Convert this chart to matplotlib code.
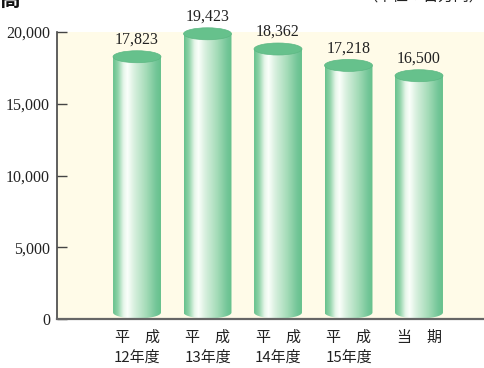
import numpy as np
import matplotlib
matplotlib.use("Agg")
import matplotlib.pyplot as plt
from matplotlib.path import Path
from matplotlib.patches import PathPatch, Ellipse
from matplotlib.colors import LinearSegmentedColormap

# ---- data ----
categories = ["平　成\n12年度", "平　成\n13年度", "平　成\n14年度", "平　成\n15年度", "当　期"]
values = [17823, 19423, 18362, 17218, 16500]
value_labels = ["17,823", "19,423", "18,362", "17,218", "16,500"]
yticks = [0, 5000, 10000, 15000, 20000]
ytick_labels = ["0", "5,000", "10,000", "15,000", "20,000"]
title_left = "高"
unit_text = "（単位：百万円）"

SERIF = ["Liberation Serif", "Noto Sans CJK JP"]
CJK = ["Noto Sans CJK JP", "DejaVu Sans"]

W, H = 484, 368
fig = plt.figure(figsize=(W / 100, H / 100), dpi=100)
ax = fig.add_axes([57 / W, 49 / H, 427 / W, 287 / H])
ax.set_facecolor("#fffbe8")

x = np.arange(len(values))
ax.set_xlim(-1.135, 4.922)
ax.set_ylim(0, 20000)

px_y = 20000 / 287.0          # data units per pixel (y)
lift = 6.5 * px_y             # 3D lift of the cylinders
ell_h = 12 * px_y             # ellipse full height
bw = 0.68                     # bar width in data units

cmap = LinearSegmentedColormap.from_list(
    "cyl",
    [(0.0, "#66c18c"), (0.10, "#8fd3a8"), (0.22, "#e6f6ea"), (0.30, "#fbfffb"),
     (0.45, "#d6efdd"), (0.70, "#a3dbb7"), (0.90, "#73c698"), (1.0, "#66c18c")])
grad = np.linspace(0, 1, 256).reshape(1, -1)

for xi, v, lab in zip(x, values, value_labels):
    base = lift
    top = v + lift
    left, right = xi - bw / 2, xi + bw / 2
    th = np.linspace(np.pi, 2 * np.pi, 60)
    bx = xi + bw / 2 * np.cos(th)
    by = base + ell_h / 2 * np.sin(th)
    verts = [(left, top)] + list(zip(bx, by)) + [(right, top), (left, top)]
    codes = [Path.MOVETO] + [Path.LINETO] * (len(verts) - 2) + [Path.CLOSEPOLY]
    clip = PathPatch(Path(verts, codes), facecolor="none", edgecolor="none",
                     transform=ax.transData)
    ax.add_patch(clip)
    im = ax.imshow(grad, cmap=cmap, aspect="auto", interpolation="bilinear",
                   extent=(left, right, base - ell_h, top), zorder=2)
    im.set_clip_path(clip)
    ax.add_patch(Ellipse((xi, top), bw, ell_h, facecolor="#66c18c",
                         edgecolor="#5cb883", lw=0.5, zorder=3, clip_on=False))
    ax.annotate(lab, (xi, v), xytext=(0, 14),
                textcoords="offset points", ha="center", va="baseline",
                fontsize=11.5, family=SERIF, color="#222222", zorder=4,
                annotation_clip=False)

ax.set_xlim(-1.135, 4.922)
ax.set_ylim(0, 20000)

for s in ["top", "right"]:
    ax.spines[s].set_visible(False)
ax.spines["left"].set_color("#444444")
ax.spines["left"].set_linewidth(1.2)
ax.spines["bottom"].set_color("#666666")
ax.spines["bottom"].set_linewidth(1.6)

ax.set_yticks(yticks)
ax.set_yticklabels(ytick_labels, family=SERIF, fontsize=11.5, color="#222222")
ax.tick_params(axis="y", direction="in", length=7.5, width=1.0, color="#444444", pad=5)
ax.set_xticks([])

for xi, c in zip(x, categories):
    ax.text(xi, -800, c, ha="center", va="top", fontsize=10.8, family=CJK,
            color="#222222", linespacing=1.55, transform=ax.transData)

fig.text(0.0, 1 - 6 / H, title_left, fontsize=15, fontweight="bold", family=CJK,
         ha="left", va="baseline", color="#111111")
fig.text(362 / W, 1 - 1 / H, unit_text, fontsize=11, family=CJK,
         ha="left", va="baseline", color="#222222")

fig.savefig("out.png", dpi=100)
